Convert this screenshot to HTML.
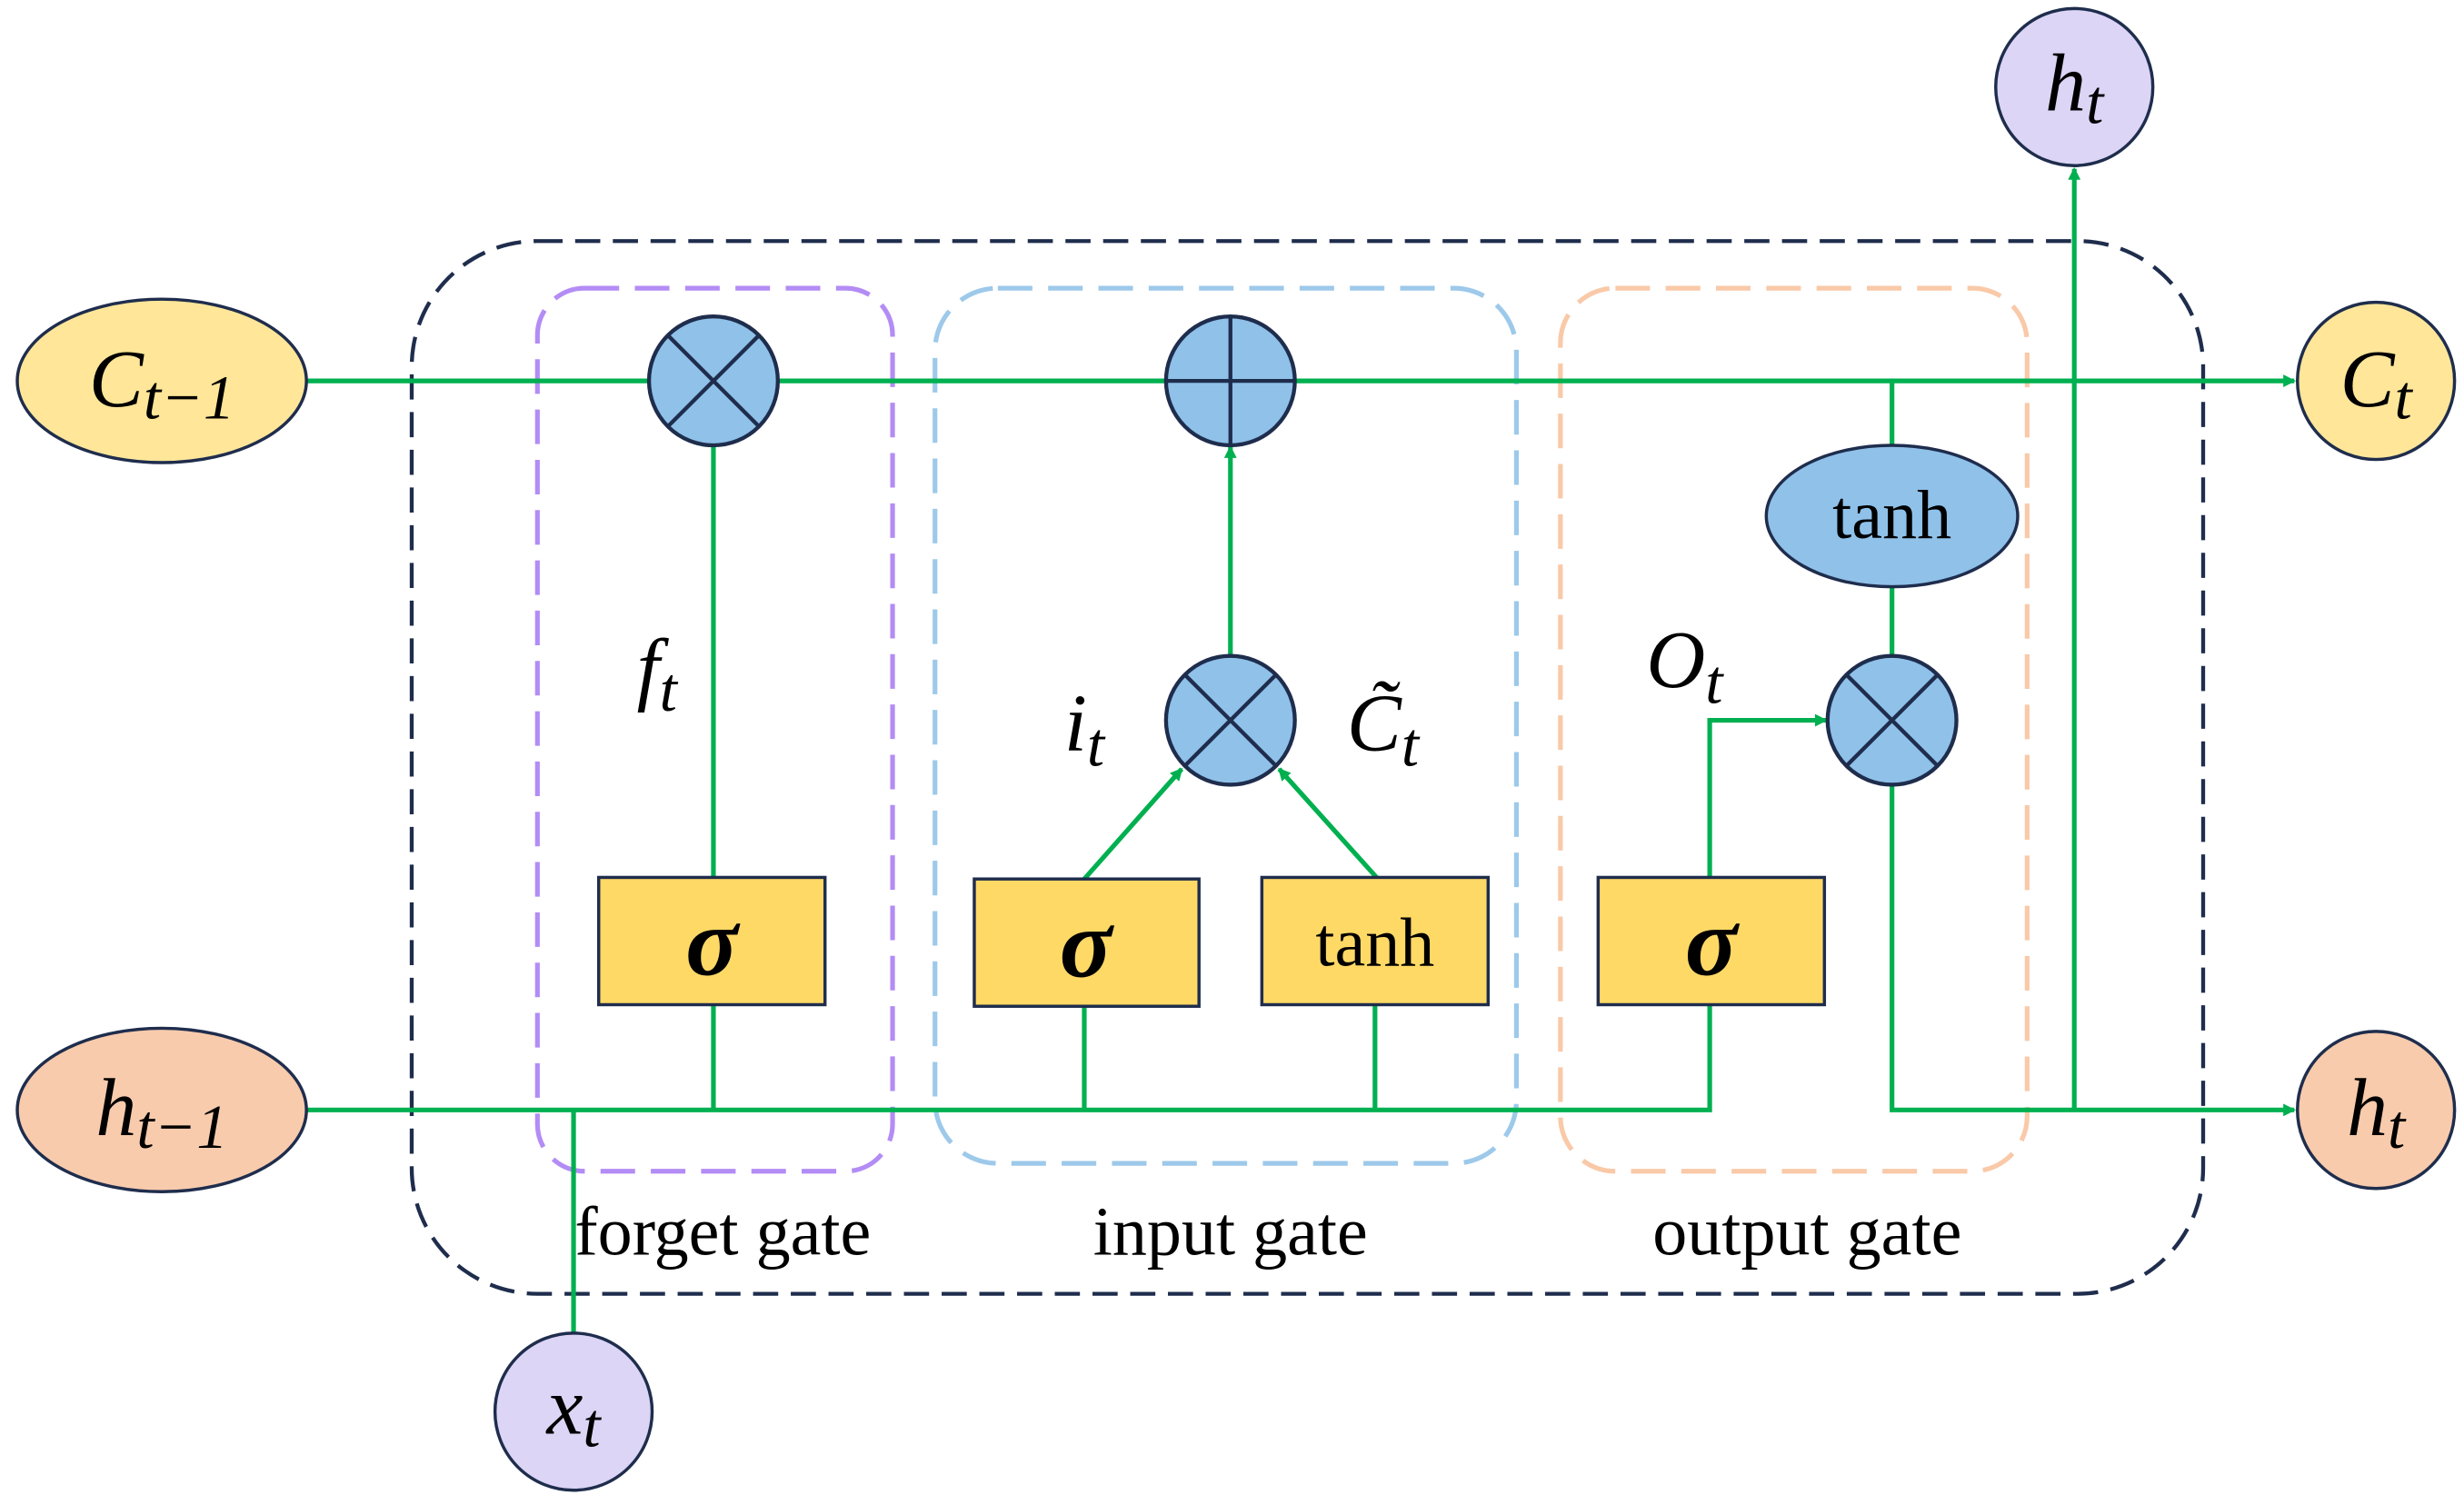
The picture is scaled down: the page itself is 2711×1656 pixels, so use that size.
<!DOCTYPE html>
<html><head><style>html,body{margin:0;padding:0;background:#fff}svg{display:block}</style></head>
<body>
<svg width="2711" height="1656" viewBox="0 0 1568 957" xmlns="http://www.w3.org/2000/svg" font-family="Liberation Serif, serif">
<defs>
<marker id="a" markerWidth="8" markerHeight="8" refX="7" refY="4" orient="auto" markerUnits="userSpaceOnUse"><path d="M0,0 L8,4 L0,8 z" fill="#00b050"/></marker>
</defs>
<rect x="262" y="153" width="1140" height="670" rx="80" fill="none" stroke="#1f2d4d" stroke-width="2.5" stroke-dasharray="16,8"/>
<rect x="342" y="183" width="226" height="562" rx="30" fill="none" stroke="#b38cf5" stroke-width="3" stroke-dasharray="22,10"/>
<rect x="595" y="183" width="370" height="557" rx="40" fill="none" stroke="#9dc9ea" stroke-width="3" stroke-dasharray="22,10"/>
<rect x="993" y="183" width="297" height="562" rx="35" fill="none" stroke="#f9c9a8" stroke-width="3" stroke-dasharray="22,10"/>
<g stroke="#00b050" stroke-width="3" fill="none">
<line x1="195" y1="242" x2="1460" y2="242" marker-end="url(#a)"/>
<polyline points="195,706 1088,706 1088,639"/>
<line x1="365" y1="850" x2="365" y2="706"/>
<line x1="454" y1="558" x2="454" y2="283"/>
<line x1="454" y1="639" x2="454" y2="706"/>
<line x1="690" y1="640" x2="690" y2="706"/>
<line x1="875" y1="639" x2="875" y2="706"/>
<line x1="690" y1="559" x2="752" y2="489" marker-end="url(#a)"/>
<line x1="876" y1="558" x2="814" y2="489" marker-end="url(#a)"/>
<line x1="783" y1="418" x2="783" y2="284" marker-end="url(#a)"/>
<polyline points="1088,558 1088,458 1162,458" marker-end="url(#a)"/>
<line x1="1204" y1="242" x2="1204" y2="283"/>
<line x1="1204" y1="373" x2="1204" y2="417"/>
<polyline points="1204,500 1204,706 1460,706" marker-end="url(#a)"/>
<line x1="1320" y1="706" x2="1320" y2="107" marker-end="url(#a)"/>
</g>
<g stroke="#1f2d4d" stroke-width="2">
<ellipse cx="103" cy="242" rx="92" ry="52" fill="#ffe699"/>
<ellipse cx="103" cy="706" rx="92" ry="52" fill="#f8cbad"/>
<circle cx="1512" cy="242" r="50" fill="#ffe699"/>
<circle cx="1512" cy="706" r="50" fill="#f8cbad"/>
<circle cx="1320" cy="55" r="50" fill="#dcd5f5"/>
<circle cx="365" cy="898" r="50" fill="#dcd5f5"/>
<ellipse cx="1204" cy="328" rx="80" ry="45" fill="#8fc1e9"/>
<rect x="381" y="558" width="144" height="81" fill="#ffd966"/>
<rect x="620" y="559" width="143" height="81" fill="#ffd966"/>
<rect x="803" y="558" width="144" height="81" fill="#ffd966"/>
<rect x="1017" y="558" width="144" height="81" fill="#ffd966"/>
</g>
<g stroke="#1f2d4d" stroke-width="2.5" fill="#8fc1e9">
<circle cx="454" cy="242" r="41"/><path d="M425,213 L483,271 M483,213 L425,271"/>
<circle cx="783" cy="242" r="41"/><path d="M742,242 L824,242 M783,201 L783,283"/>
<circle cx="783" cy="458" r="41"/><path d="M754,429 L812,487 M812,429 L754,487"/>
<circle cx="1204" cy="458" r="41"/><path d="M1175,429 L1233,487 M1233,429 L1175,487"/>
</g>
<g font-style="italic" font-size="52" fill="#000" text-anchor="middle">
<text x="103" y="258">C<tspan font-size="40" dy="8">t−1</tspan></text>
<text x="103" y="722">h<tspan font-size="40" dy="8">t−1</tspan></text>
<text x="1512" y="258">C<tspan font-size="40" dy="8">t</tspan></text>
<text x="1512" y="722">h<tspan font-size="40" dy="8">t</tspan></text>
<text x="1320" y="70">h<tspan font-size="40" dy="8">t</tspan></text>
<text x="365" y="912">x<tspan font-size="40" dy="8">t</tspan></text>
<text x="418" y="442">f<tspan font-size="40" dy="10">t</tspan></text>
<text x="690" y="477">i<tspan font-size="40" dy="10">t</tspan></text>
<text x="880" y="477">C̃<tspan font-size="40" dy="10">t</tspan></text>
<text x="1072" y="437">O<tspan font-size="40" dy="10">t</tspan></text>
<text x="453" y="620" font-size="62" font-weight="bold">σ</text>
<text x="691" y="621" font-size="62" font-weight="bold">σ</text>
<text x="1089" y="620" font-size="62" font-weight="bold">σ</text>
</g>
<g font-size="44" fill="#000" text-anchor="middle">
<text x="875" y="614">tanh</text>
<text x="1204" y="342">tanh</text>
<text x="460" y="798">forget gate</text>
<text x="783" y="798">input gate</text>
<text x="1150" y="798">output gate</text>
</g>
</svg>
</body></html>
